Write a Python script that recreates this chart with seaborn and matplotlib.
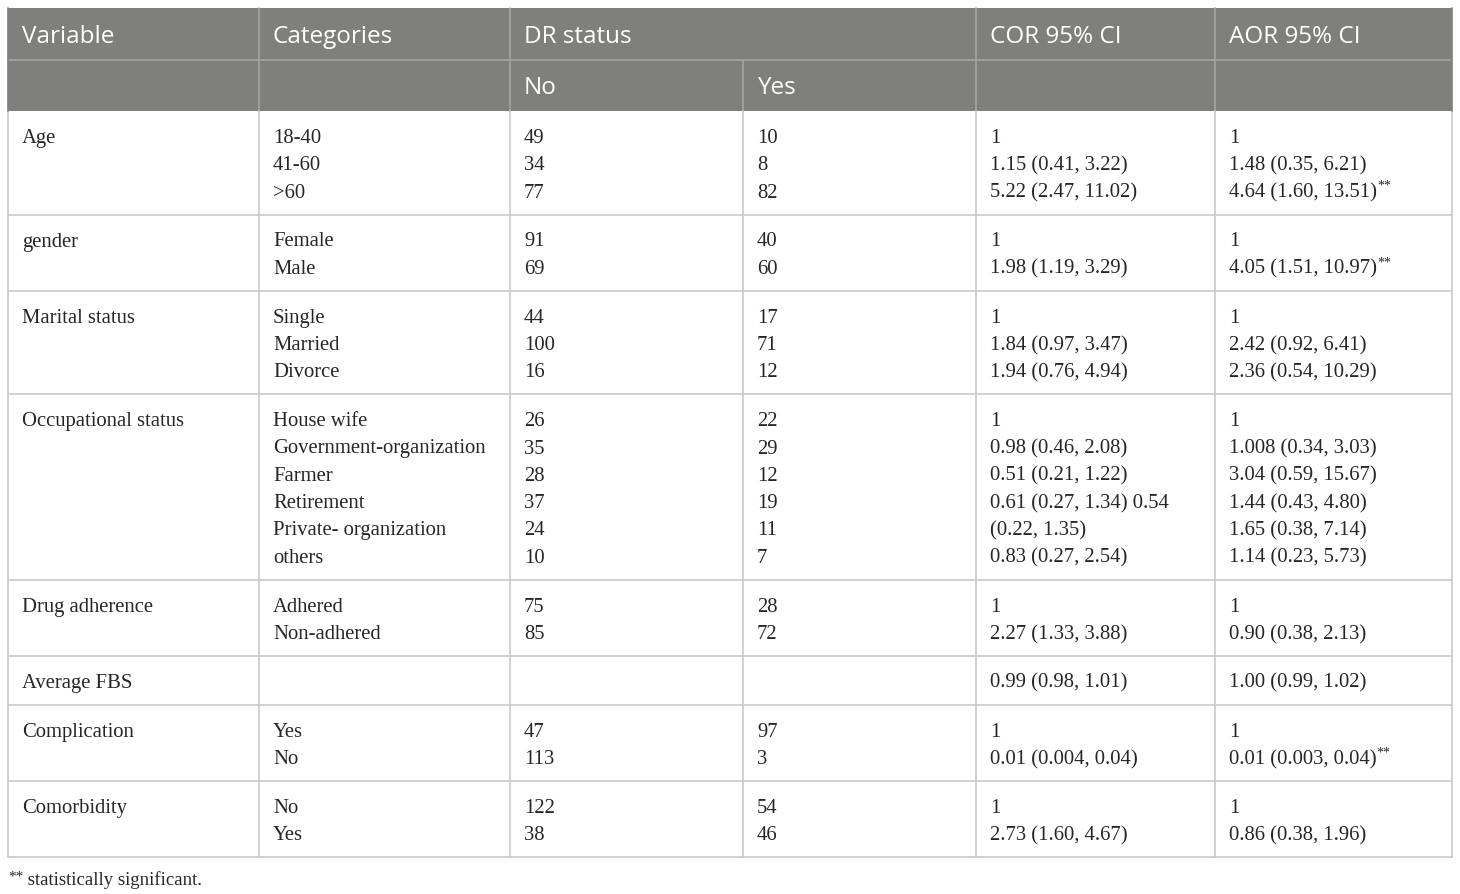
import matplotlib
matplotlib.use("Agg")
import matplotlib.pyplot as plt
import seaborn as sns

# table content
variables = ["Age", "gender", "Marital status", "Occupational status",
             "Drug adherence", "Average FBS", "Complication", "Comorbidity"]
categories = [
    ["18-40", "41-60", ">60"],
    ["Female", "Male"],
    ["Single", "Married", "Divorce"],
    ["House wife", "Government-organization", "Farmer", "Retirement",
     "Private- organization", "others"],
    ["Adhered", "Non-adhered"],
    [""],
    ["Yes", "No"],
    ["No", "Yes"],
]
dr_no = [
    ["49", "34", "77"],
    ["91", "69"],
    ["44", "100", "16"],
    ["26", "35", "28", "37", "24", "10"],
    ["75", "85"],
    [""],
    ["47", "113"],
    ["122", "38"],
]
dr_yes = [
    ["10", "8", "82"],
    ["40", "60"],
    ["17", "71", "12"],
    ["22", "29", "12", "19", "11", "7"],
    ["28", "72"],
    [""],
    ["97", "3"],
    ["54", "46"],
]
cor = [
    ["1", "1.15 (0.41, 3.22)", "5.22 (2.47, 11.02)"],
    ["1", "1.98 (1.19, 3.29)"],
    ["1", "1.84 (0.97, 3.47)", "1.94 (0.76, 4.94)"],
    ["1", "0.98 (0.46, 2.08)", "0.51 (0.21, 1.22)", "0.61 (0.27, 1.34) 0.54",
     "(0.22, 1.35)", "0.83 (0.27, 2.54)"],
    ["1", "2.27 (1.33, 3.88)"],
    ["0.99 (0.98, 1.01)"],
    ["1", "0.01 (0.004, 0.04)"],
    ["1", "2.73 (1.60, 4.67)"],
]
aor = [
    ["1", "1.48 (0.35, 6.21)", "4.64 (1.60, 13.51)**"],
    ["1", "4.05 (1.51, 10.97)**"],
    ["1", "2.42 (0.92, 6.41)", "2.36 (0.54, 10.29)"],
    ["1", "1.008 (0.34, 3.03)", "3.04 (0.59, 15.67)", "1.44 (0.43, 4.80)",
     "1.65 (0.38, 7.14)", "1.14 (0.23, 5.73)"],
    ["1", "0.90 (0.38, 2.13)"],
    ["1.00 (0.99, 1.02)"],
    ["1", "0.01 (0.003, 0.04)**"],
    ["1", "0.86 (0.38, 1.96)"],
]
footnote = "statistically significant."

sns.set_style("white")
HEAD_FONT = ["Open Sans", "DejaVu Sans"]
BODY_FONT = ["Liberation Serif", "DejaVu Serif"]

W, H = 1460, 894
fig = plt.figure(figsize=(W / 100, H / 100), dpi=100)
ax = fig.add_axes([0, 0, 1, 1])
ax.set_xlim(0, W)
ax.set_ylim(H, 0)
ax.axis("off")

col_x = [8, 259, 510, 743, 976, 1215, 1452]
pad = 14
head_top, head_mid, head_bot = 8, 60, 111
line_step = 27.3
first_off = 27.5
head_col = "#7f807e"
head_line = "#a3a3a3"
body_line = "#c9c9c9"
text_col = "#262626"

# header background
ax.add_patch(plt.Rectangle((col_x[0], head_top), col_x[-1] - col_x[0],
                           head_bot - head_top, color=head_col, lw=0, zorder=0))
ax.plot([col_x[0], col_x[-1]], [head_mid, head_mid], color=head_line, lw=1.2)
for i, x in enumerate(col_x[1:-1], start=1):
    y0 = head_mid if i == 3 else head_top
    ax.plot([x, x], [y0, head_bot], color=head_line, lw=1.2)

head1 = ["Variable", "Categories", "DR status", "", "COR 95% CI", "AOR 95% CI"]
head2 = ["", "", "No", "Yes", "", ""]
for j in range(6):
    ax.text(col_x[j] + pad, (head_top + head_mid) / 2 + 3, head1[j], color="white",
            fontsize=17.5, family=HEAD_FONT, va="center", ha="left")
    ax.text(col_x[j] + pad, (head_mid + head_bot) / 2 + 3, head2[j], color="white",
            fontsize=17.5, family=HEAD_FONT, va="center", ha="left")


def put(x, y, s):
    star = s.endswith("**")
    if star:
        s = s[:-2]
    t = ax.text(x, y, s, fontsize=14.9, family=BODY_FONT, color=text_col,
                va="center", ha="left")
    if star:
        ax.annotate("**", xy=(1, 0.85), xycoords=t, fontsize=10, family=BODY_FONT,
                    color=text_col, va="center", ha="left")


# body rows
y = head_bot
bounds = [y]
for g, var in enumerate(variables):
    n = len(categories[g])
    put(col_x[0] + pad, y + first_off, var)
    cols = [categories[g], dr_no[g], dr_yes[g], cor[g], aor[g]]
    for c, vals in enumerate(cols, start=1):
        for k, v in enumerate(vals):
            put(col_x[c] + pad, y + first_off + k * line_step, v)
    y += 21.6 + n * line_step
    bounds.append(y)

for b in bounds[1:]:
    ax.plot([col_x[0], col_x[-1]], [b, b], color=body_line, lw=1.2)
for x in col_x:
    ax.plot([x, x], [head_bot, bounds[-1]], color=body_line, lw=1.2)
for x in (col_x[0], col_x[-1]):
    ax.plot([x, x], [head_top, head_bot], color=head_col, lw=1.2)

fn = ax.text(8, 877, "**", fontsize=11, family=BODY_FONT, color=text_col,
             va="center", ha="left")
ax.annotate(" " + footnote, xy=(1, 0.3), xycoords=fn, fontsize=13.5,
            family=BODY_FONT, color=text_col, va="center", ha="left")

fig.savefig("out.png", dpi=100)
